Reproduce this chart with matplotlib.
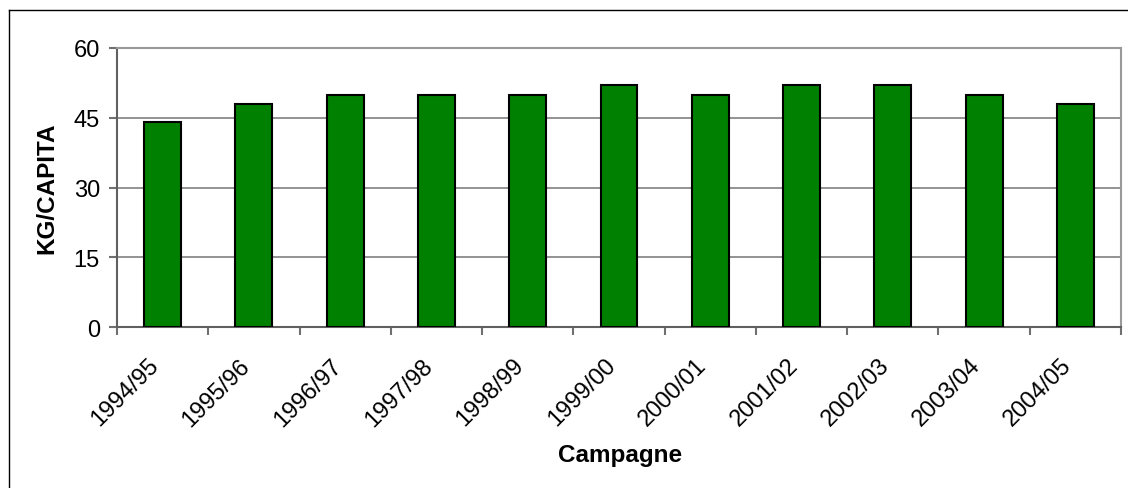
import matplotlib
matplotlib.use("Agg")
import matplotlib.pyplot as plt
import matplotlib.transforms as mtransforms
from matplotlib.lines import Line2D
import numpy as np

plt.rcParams['font.family'] = ['Liberation Sans', 'DejaVu Sans']

categories = ["1994/95", "1995/96", "1996/97", "1997/98", "1998/99", "1999/00",
              "2000/01", "2001/02", "2002/03", "2003/04", "2004/05"]
values = [44, 48, 50, 50, 50, 52, 50, 52, 52, 50, 48]
yticks = [0, 15, 30, 45, 60]

W, H = 1128, 489
fig = plt.figure(figsize=(W / 100, H / 100), dpi=100)
ax = fig.add_axes([117 / W, 1 - 328.3 / H, (1121 - 117) / W, (328.3 - 49) / H])

x = np.arange(len(categories))
ax.bar(x, values, width=0.405, color="#008000", edgecolor="black", linewidth=1.5, zorder=3)

ax.set_xlim(-0.5, len(categories) - 0.5)
ax.set_ylim(0, 60)
ax.set_yticks(yticks)
ax.set_yticklabels([str(v) for v in yticks], fontsize=17)
ax.yaxis.grid(True, color="#808080", linewidth=1.2, zorder=0)
ax.set_axisbelow(True)

ax.set_xticks(x)
ax.set_xticklabels(categories, fontsize=17, rotation=45, ha="right", va="center",
                   rotation_mode="anchor")
ax.tick_params(axis="x", which="major", length=0, pad=0)
offset = mtransforms.ScaledTranslation(-7 / 100, -34.5 / 100, fig.dpi_scale_trans)
for lbl in ax.get_xticklabels():
    lbl.set_transform(lbl.get_transform() + offset)
ax.set_xticks(np.arange(-0.5, len(categories) + 0.5, 1), minor=True)
ax.tick_params(axis="x", which="minor", length=5.8, color="#707070", width=1.5)
ax.tick_params(axis="y", length=5.8, color="#707070", width=1.5, pad=6.5)

for s in ["left", "bottom"]:
    ax.spines[s].set_color("#606060")
    ax.spines[s].set_linewidth(1.5)
for s in ["top", "right"]:
    ax.spines[s].set_color("#999999")
    ax.spines[s].set_linewidth(1.5)

fig.text(47 / W, 1 - 188 / H, "KG/CAPITA", fontsize=17.5, fontweight="bold",
         rotation=90, ha="center", va="center")
fig.text(620 / W, 1 - 456 / H, "Campagne", fontsize=17.5, fontweight="bold",
         ha="center", va="center")

fig.add_artist(Line2D([9 / W, 9 / W], [0, 1 - 11 / H], transform=fig.transFigure,
                      color="black", linewidth=1.0))
fig.add_artist(Line2D([9 / W, 1], [1 - 11 / H, 1 - 11 / H], transform=fig.transFigure,
                      color="black", linewidth=1.0))

fig.savefig("out.png", dpi=100)
